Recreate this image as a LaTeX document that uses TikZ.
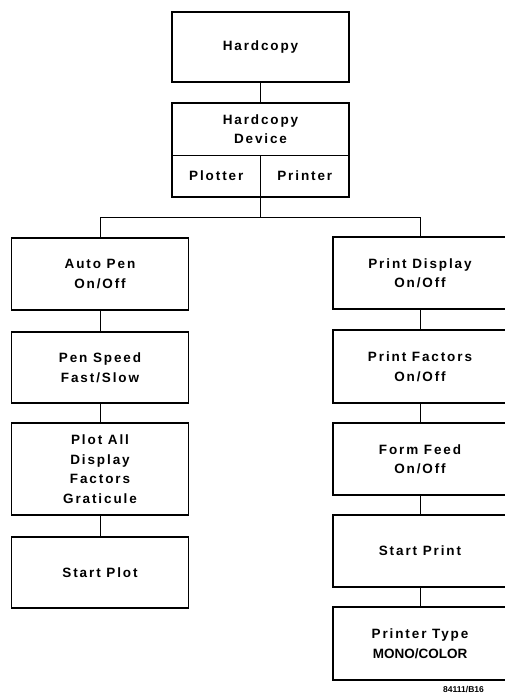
\documentclass[tikz,border=0pt]{standalone}
\usepackage{fontspec}
\newfontfamily\plotfont{Liberation Sans}[LetterSpace=14]
\newfontfamily\plainfont{Liberation Sans}
\usepackage{tikz}
\usetikzlibrary{positioning,calc}

\begin{document}
\begin{tikzpicture}[x=1pt,y=-1pt]
            \tikzset{
                menubox/.style={
                    draw,
                    line width=1.5pt,
                    minimum width=177pt,
                    minimum height=71pt,
                    align=center,
                    inner sep=0pt,
                    font=\plotfont\bfseries\fontsize{13.5}{19.5}\selectfont
                }
            }
            \tikzset{
                rightbox/.style={
                    menubox,
                    minimum width=174pt
                }
            }
            \tikzset{
                cell/.style={
                    menubox,
                    draw=none,
                    outer sep=0pt
                }
            }
            \tikzset{
                link/.style={
                    black,
                    line width=0.9pt
                }
            }
            \useasboundingbox (0,0) rectangle (505,694);

            % top of the tree
            \node[menubox, minimum height=70pt] (hc) at (260.5,47) {Hardcopy};
            \node[cell, minimum height=52pt] (dev) at (260.5,129) {Hardcopy\\Device};
            \node[cell, minimum width=88.5pt, minimum height=42pt] (plot) at (216.25,176) {Plotter};
            \node[cell, minimum width=88.5pt, minimum height=42pt] (prnt) at (304.75,176) {Printer};
            \draw[line width=1.5pt] (dev.north west) rectangle (prnt.south east);
            \draw[link] (plot.north west) -- (prnt.north east);
            \draw[link] (plot.north east) -- (plot.south east);
            \draw[link] (hc.south) -- (dev.north);

            % plotter side
            \node[menubox, minimum height=72pt] (auto) at (100,274) {Auto Pen\\On/Off};
            \node[menubox] (speed) at (100,367.5) {Pen Speed\\Fast/Slow};
            \node[menubox, minimum height=92pt] (plotall) at (100,469) {Plot All\\Display\\Factors\\Graticule};
            \node[menubox] (splot) at (100,572.5) {Start Plot};

            % printer side
            \node[rightbox, minimum height=72pt] (pdisp) at (420,273) {Print Display\\On/Off};
            \node[rightbox, minimum height=73pt] (pfact) at (420,366.5) {Print Factors\\On/Off};
            \node[rightbox, minimum height=72pt] (ffeed) at (420,459) {Form Feed\\On/Off};
            \node[rightbox, minimum height=72pt] (sprint) at (420,551) {Start Print};
            \node[rightbox, minimum height=73pt] (ptype) at (420,643.5) {Printer Type\\{\plainfont\bfseries MONO/COLOR}};

            \coordinate (fork) at ($(plot.south east)+(0,20)$);
            \draw[link] (plot.south east) -- (fork);
            \draw[link] (fork) -| (auto.north);
            \draw[link] (fork) -| (pdisp.north);

            \draw[link] (auto) -- (speed);
            \draw[link] (speed) -- (plotall);
            \draw[link] (plotall) -- (splot);
            \draw[link] (pdisp) -- (pfact);
            \draw[link] (pfact) -- (ffeed);
            \draw[link] (ffeed) -- (sprint);
            \draw[link] (sprint) -- (ptype);

            \node[anchor=west, inner sep=0pt, font=\plainfont\bfseries\fontsize{8.5}{9}\selectfont] (figno) at (443,689) {84111/B16};
        \end{tikzpicture}
\end{document}
